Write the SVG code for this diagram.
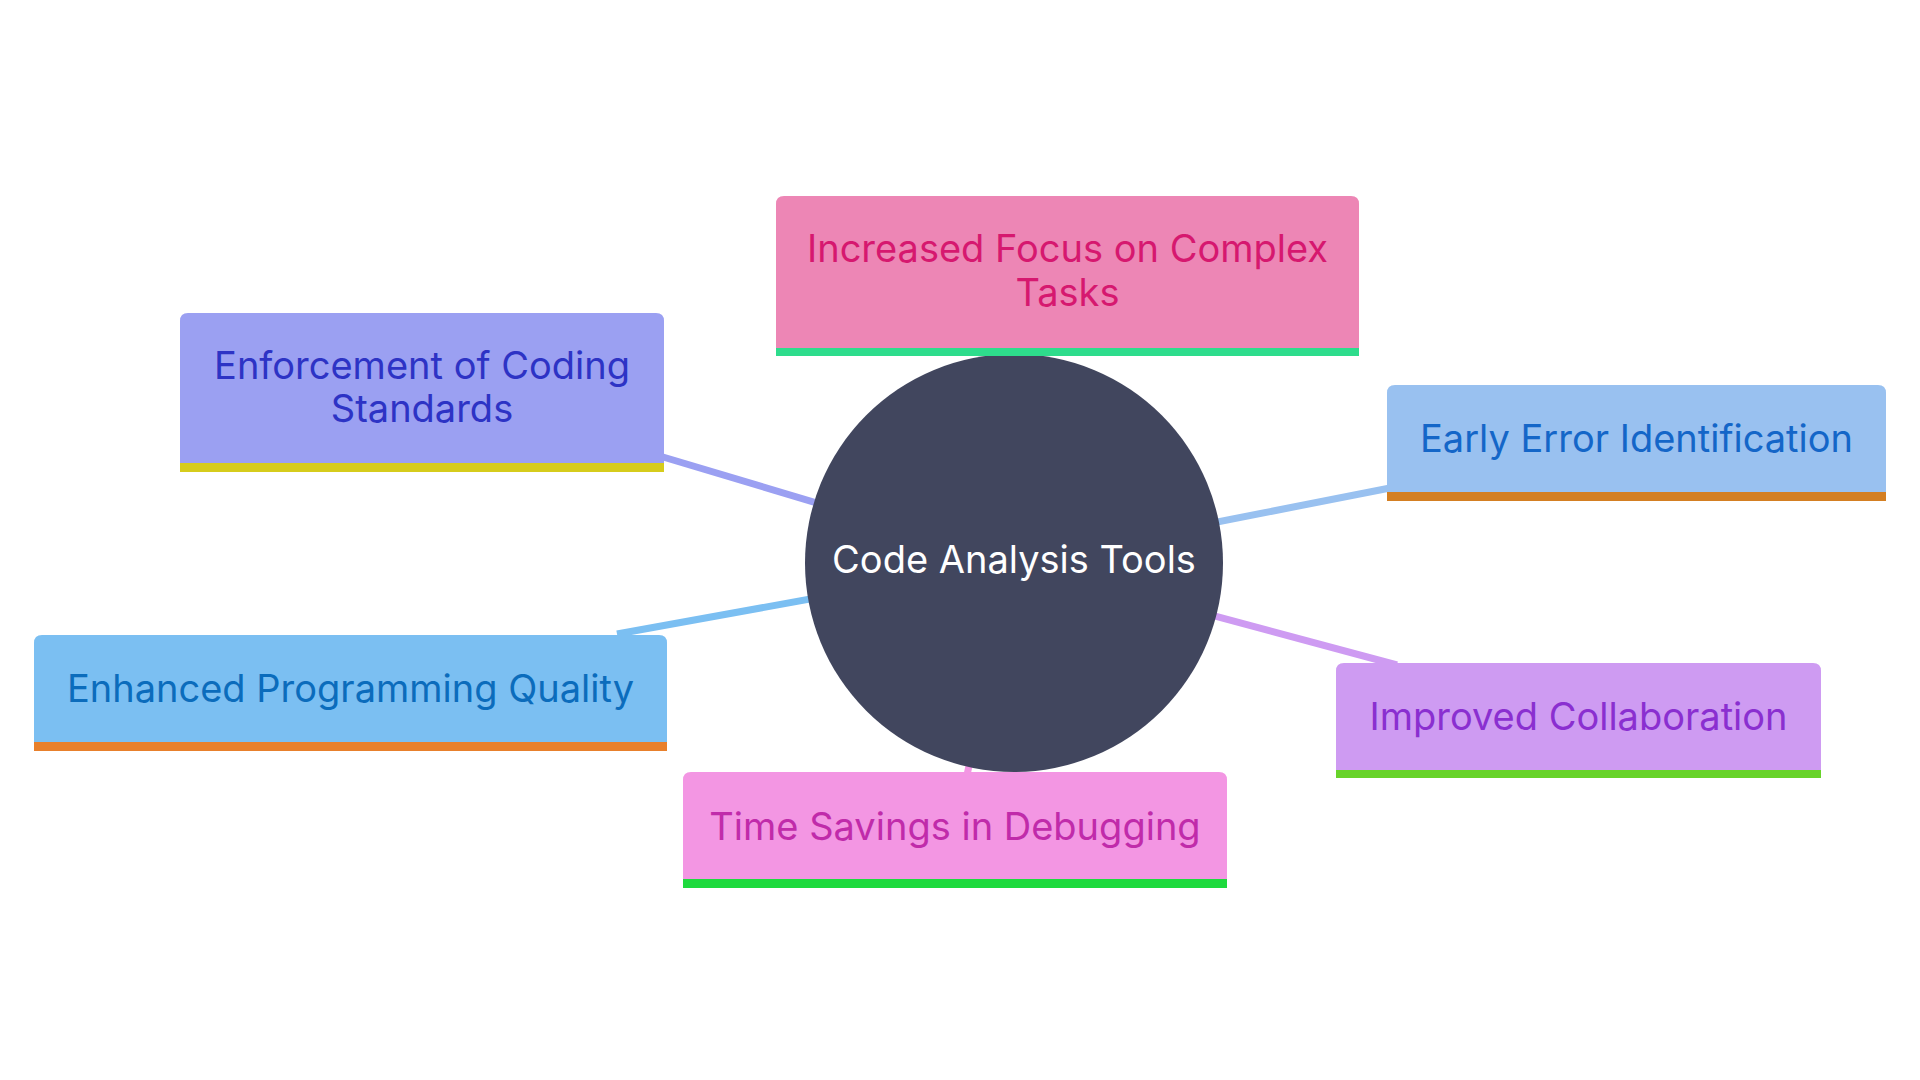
<svg xmlns="http://www.w3.org/2000/svg" width="1920" height="1080" viewBox="0 0 1920 1080">
<style>
.lbl{font-family:Inter,"Open Sans","Liberation Sans",sans-serif;font-size:38px;text-anchor:middle}
.edge{fill:none;stroke-width:7;stroke-linecap:butt}
</style>
<rect width="1920" height="1080" fill="#ffffff"/>
<g id="connectors">
<line class="edge" x1="1014" y1="562" x2="1040" y2="350" stroke="#ed86b5"/>
<line class="edge" x1="1014" y1="562" x2="663" y2="457" stroke="#9ba0f2"/>
<line class="edge" x1="1014" y1="562" x2="1390" y2="488" stroke="#99c1f0"/>
<line class="edge" x1="1014" y1="562" x2="617" y2="634" stroke="#7bbff2"/>
<line class="edge" x1="1014" y1="562" x2="1397" y2="665" stroke="#ce9bf2"/>
<line class="edge" x1="1014" y1="562" x2="967" y2="775" stroke="#f396e3"/>
</g>
<g id="root">
<circle cx="1014" cy="563" r="209" fill="#41465e"/>
<text class="lbl" x="1014" y="573" fill="#ffffff">Code Analysis Tools</text>
</g>
<g id="n-focus">
<path d="M776,356 V204 Q776,196 784,196 H1351 Q1359,196 1359,204 V356 Z" fill="#ed86b5"/>
<rect x="776" y="348" width="583" height="8" fill="#2edc8c"/>
<text class="lbl" fill="#d6186f"><tspan x="1067.5" y="262">Increased Focus on Complex</tspan><tspan x="1067.5" y="306">Tasks</tspan></text>
</g>
<g id="n-standards">
<path d="M180,472 V321 Q180,313 188,313 H656 Q664,313 664,321 V472 Z" fill="#9ba0f2"/>
<rect x="180" y="463" width="484" height="9" fill="#d6cc1c"/>
<text class="lbl" fill="#2d33c5"><tspan x="422" y="379">Enforcement of Coding</tspan><tspan x="422" y="422">Standards</tspan></text>
</g>
<g id="n-early">
<path d="M1387,501 V393 Q1387,385 1395,385 H1878 Q1886,385 1886,393 V501 Z" fill="#99c1f0"/>
<rect x="1387" y="492" width="499" height="9" fill="#d47f22"/>
<text class="lbl" x="1636.5" y="452" fill="#1466c8">Early Error Identification</text>
</g>
<g id="n-quality">
<path d="M34,751 V643 Q34,635 42,635 H659 Q667,635 667,643 V751 Z" fill="#7bbff2"/>
<rect x="34" y="742" width="633" height="9" fill="#e8802c"/>
<text class="lbl" x="350.5" y="702" fill="#0b6cbc">Enhanced Programming Quality</text>
</g>
<g id="n-collab">
<path d="M1336,778 V671 Q1336,663 1344,663 H1813 Q1821,663 1821,671 V778 Z" fill="#ce9bf2"/>
<rect x="1336" y="770" width="485" height="8" fill="#68d32a"/>
<text class="lbl" x="1578.5" y="730" fill="#8a2fd0">Improved Collaboration</text>
</g>
<g id="n-debug">
<path d="M683,888 V780 Q683,772 691,772 H1219 Q1227,772 1227,780 V888 Z" fill="#f396e3"/>
<rect x="683" y="879" width="544" height="9" fill="#1eda3e"/>
<text class="lbl" x="955" y="840" fill="#c02baa">Time Savings in Debugging</text>
</g>
</svg>
